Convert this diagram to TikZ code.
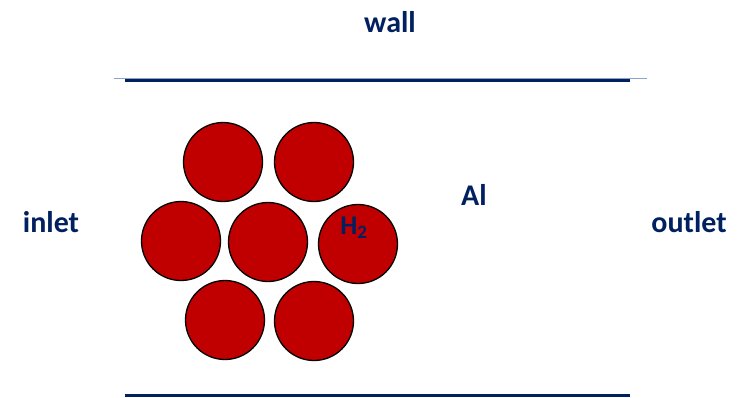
\documentclass[tikz,border=0pt]{standalone}
\usepackage{fontspec}
\setmainfont{Carlito}
\definecolor{navy}{HTML}{002060}
\definecolor{bead}{HTML}{C00000}
\definecolor{pale}{HTML}{8FA3C8}
\begin{document}
\begin{tikzpicture}[x=1pt,y=-1pt,
  bead/.style={circle,draw=black,line width=1.3pt,fill=bead,minimum size=79pt,inner sep=0pt},
  lbl/.style={text=navy,font=\fontsize{30}{32}\selectfont\bfseries,inner sep=0pt},
  wallline/.style={draw=navy,line width=3pt}]
\useasboundingbox (0,0) rectangle (746,397);
% labels
\node[lbl] (wall) at (390,22) {wall};
\node[lbl] (inlet) at (51,222) {inlet};
\node[lbl] (outlet) at (689,222) {outlet};
\node[lbl] (al) at (474,195) {Al};
% walls
\coordinate (tl0) at (114,78); \coordinate (tr0) at (647,78);
\draw[pale,line width=1pt] (tl0) -- (tr0);
\coordinate (tl) at (125,80); \coordinate (tr) at (630,80);
\draw[wallline] (tl) -- (tr);
\coordinate (bl) at (125,395); \coordinate (br) at (630,395);
\draw[wallline] (bl) -- (br);
% beads
\node[bead] (b1) at (223,162) {};
\node[bead] (b2) at (314,162) {};
\node[bead] (b3) at (181,241) {};
\node[bead] (b4) at (268,242) {};
\node[bead] (b5) at (358,244) {};
\node[bead] (b6) at (225,320) {};
\node[bead] (b7) at (314,321) {};
\node[lbl,font=\fontsize{27}{29}\selectfont\bfseries] (h2) at (354,228) {H\textsubscript{2}};
\end{tikzpicture}
\end{document}
